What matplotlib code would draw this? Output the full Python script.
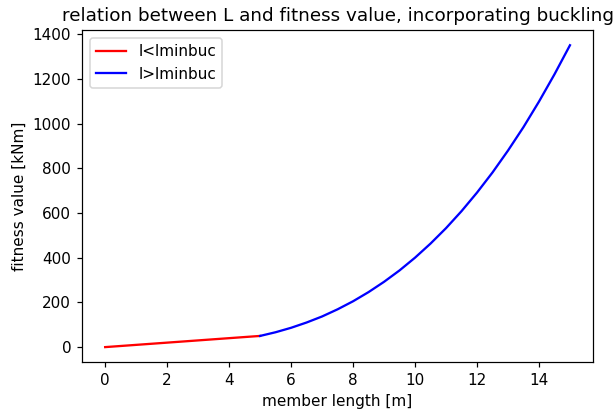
import numpy as np
import matplotlib
matplotlib.use("Agg")
import matplotlib.pyplot as plt

# values
l_short = [0, 5]
fit_short = [0, 50]

l_long = [5, 5.5, 6, 6.5, 7, 7.5, 8, 8.5, 9, 9.5, 10,
          10.5, 11, 11.5, 12, 12.5, 13, 13.5, 14, 14.5, 15]
fit_long = [50, 66.5, 86.4, 110, 137, 169, 205, 246, 292, 343, 400,
            463, 532, 608, 691, 781, 879, 984, 1098, 1220, 1350]

fig, ax = plt.subplots(figsize=(616 / 110, 413 / 110), dpi=110)
fig.subplots_adjust(left=0.133, right=0.963, top=0.927, bottom=0.123)
ax.plot(l_short, fit_short, color="red", label="l<lminbuc")
ax.plot(l_long, fit_long, color="blue", label="l>lminbuc")
ax.set_xlabel("member length [m]")
ax.set_ylabel("fitness value [kNm]")
ax.set_title("relation between L and fitness value, incorporating buckling")
ax.legend(loc="upper left")
fig.savefig("out.png", dpi=110)
